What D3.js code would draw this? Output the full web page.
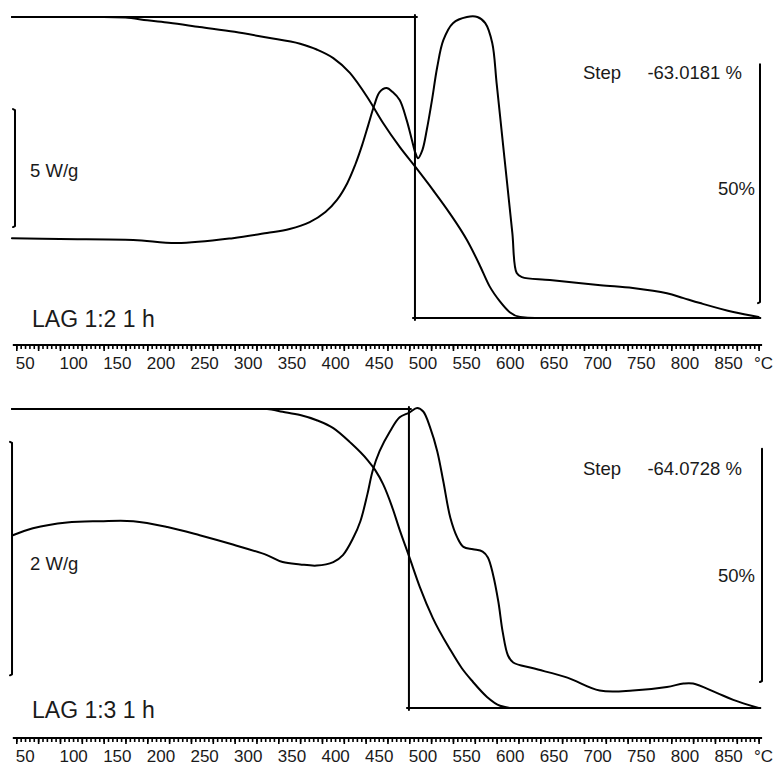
<!DOCTYPE html>
<html>
<head>
<meta charset="utf-8">
<script src="https://cdn.jsdelivr.net/npm/d3@7"></script>
<style>
  body { margin: 0; background: #fff; }
  svg { display: block; }
  text { font-family: "Liberation Sans", Arial, sans-serif; fill: #1a1a1a; }
</style>
</head>
<body>
<svg id="chart" width="779" height="769"></svg>
<script>
// ---- Temperature axis (°C) ----
const tickLabels = [50, 100, 150, 200, 250, 300, 350, 400, 450, 500, 550, 600, 650, 700, 750, 800, 850];

// ---- LAG 1:2, 1 h : TGA mass (%) ----
const tgaA_temp = [45, 100, 150, 175, 200, 225, 260, 300, 337, 375, 394, 413, 432, 452, 470, 489, 507, 527, 546, 566, 580, 592, 604, 615, 627, 644, 750, 902];
const tgaA_mass = [100, 100, 100, 99.9, 99.3, 98.8, 97.9, 96.9, 95.7, 94.4, 93.2, 91.4, 88.3, 83.2, 77.8, 72.8, 68.6, 63.8, 59.0, 53.3, 48.3, 43.6, 40.4, 38.2, 37.2, 36.98, 36.98, 36.98];

// ---- LAG 1:2, 1 h : DSC heat flow (W/g) ----
const dscA_temp = [45, 100, 184, 234, 298, 337, 363, 386, 404, 417, 429, 438, 446, 453, 460, 466, 474, 481, 489, 497, 503, 507, 510, 515, 520, 526, 532, 539, 550, 566, 578, 587, 595, 600, 606, 612, 618, 623, 629, 661, 719, 756, 795, 814, 833, 871, 900];
const dscA_flow = [0.08, 0.04, 0, -0.13, 0.08, 0.30, 0.47, 0.76, 1.19, 1.69, 2.41, 3.18, 4.02, 4.87, 5.72, 6.27, 6.44, 6.27, 5.93, 5.08, 4.24, 3.69, 3.47, 3.81, 4.66, 5.93, 7.33, 8.47, 9.19, 9.45, 9.45, 9.19, 8.35, 6.65, 4.53, 2.42, 0.30, -1.40, -1.57, -1.69, -1.91, -2.03, -2.25, -2.46, -2.67, -3.05, -3.26];

// ---- LAG 1:3, 1 h : TGA mass (%) ----
const tgaB_temp = [45, 150, 250, 337, 355, 375, 394, 413, 432, 452, 461, 470, 480, 489, 500, 512, 527, 547, 560, 573, 589, 604, 618, 650, 750, 902];
const tgaB_mass = [100, 100, 100, 100, 99.4, 98.7, 97.6, 95.9, 92.9, 89.1, 86.9, 83.9, 79.2, 74.1, 68.3, 61.9, 55.2, 48.4, 44.5, 41.5, 38.3, 36.4, 35.93, 35.93, 35.93, 35.93];

// ---- LAG 1:3, 1 h : DSC heat flow (W/g) ----
const dscB_temp = [46, 69, 108, 146, 184, 223, 260, 298, 337, 355, 375, 394, 413, 424, 436, 444, 452, 458, 466, 478, 489, 500, 509, 516, 524, 532, 539, 547, 555, 562, 573, 584, 590, 596, 602, 607, 613, 619, 642, 681, 718, 756, 795, 814, 825, 852, 871, 900];
const dscB_flow = [0.21, 0.27, 0.32, 0.33, 0.33, 0.28, 0.21, 0.13, 0.04, -0.02, -0.04, -0.05, -0.02, 0.04, 0.19, 0.33, 0.56, 0.76, 0.93, 1.10, 1.22, 1.26, 1.30, 1.27, 1.13, 0.93, 0.67, 0.36, 0.19, 0.11, 0.09, 0.07, 0.02, -0.13, -0.36, -0.62, -0.82, -0.88, -0.93, -1.01, -1.12, -1.12, -1.09, -1.06, -1.06, -1.14, -1.20, -1.27];

// ---- Step evaluation and annotations ----
const sampleNames = ["LAG 1:2 1 h", "LAG 1:3 1 h"];
const stepLoss = [-63.0181, -64.0728];      // %
const stepOnset = [506.5, 499.6];           // °C, vertical step line
const heatBar = [5, 2];                     // W/g scale bar length
const heatBarBase = [0.55, -0.99];          // W/g at lower end of scale bar
const massBar = [50, 50];                   // % scale bar length
const massBarBase = [40.1, 41.5];           // % at lower end of scale bar
const heatRange = [[-3.26, 9.45], [-1.27, 1.30]];

// ---- Layout ----
const svg = d3.select("#chart");
const x = d3.scaleLinear().domain([50, 900]).range([16.3, 758.6]);

const panels = [
  { top: 17, bottom: 318, heatTop: 17, heatBottom: 317, axisY: 345, stepY: 79, pctY: 195, heatLabelY: 177, nameY: 327,
    heatX: 48.5, massX: 901.6,
    tga: [tgaA_temp, tgaA_mass], dsc: [dscA_temp, dscA_flow] },
  { top: 409, bottom: 708, heatTop: 408, heatBottom: 708, axisY: 738, stepY: 475, pctY: 582, heatLabelY: 570, nameY: 718,
    heatX: 45.1, massX: 903.9,
    tga: [tgaB_temp, tgaB_mass], dsc: [dscB_temp, dscB_flow] }
];

const fmtStep = v => v.toFixed(4);

panels.forEach((p, i) => {
  const g = svg.append("g");
  const yMass = d3.scaleLinear().domain([100 + stepLoss[i], 100]).range([p.bottom, p.top]);
  const yHeat = d3.scaleLinear().domain(heatRange[i]).range([p.heatBottom, p.heatTop]);

  const line = (ys, curve) => d3.line().x(d => x(d[0])).y(d => ys(d[1])).curve(curve);
  const stroke = (sel, w) => sel.attr("fill", "none").attr("stroke", "#000").attr("stroke-width", w)
                                .attr("stroke-linejoin", "round").attr("stroke-linecap", "round");

  // Step evaluation lines: initial mass, onset, final mass
  const x0 = x(45), xOn = x(stepOnset[i]), xEnd = x(901.5);
  const yStart = yMass(100), yFinal = yMass(100 + stepLoss[i]);
  stroke(g.append("path"), 2).attr("d",
    `M${x0},${yStart}H${xOn + 2}` +
    `M${xOn},${yStart - 2}V${yFinal + 2}` +
    `M${xOn - 2},${yFinal}H${xEnd}`);

  // Curves: TGA mass loss (monotone) and DSC heat flow
  const tgaPts = p.tga[0].map((t, k) => [t, p.tga[1][k]]);
  const dscPts = p.dsc[0].map((t, k) => [t, p.dsc[1][k]]);
  stroke(g.append("path").datum(tgaPts), 2).attr("d", line(yMass, d3.curveMonotoneX));
  stroke(g.append("path").datum(dscPts), 2).attr("d", line(yHeat, d3.curveCatmullRom.alpha(0.5)));

  // Heat-flow scale bar (left)
  const hx = x(p.heatX), hy1 = yHeat(heatBarBase[i]), hy2 = yHeat(heatBarBase[i] + heatBar[i]);
  stroke(g.append("path"), 2).attr("d",
    `M${hx - 2},${hy2}L${hx},${hy2 + 1}V${hy1 - 1}L${hx - 2},${hy1}`);
  g.append("text").attr("x", 30).attr("y", p.heatLabelY).attr("font-size", 18.5)
    .text(`${heatBar[i]} W/g`);

  // Mass scale bar (right)
  const mx = x(p.massX), my1 = yMass(massBarBase[i]), my2 = yMass(massBarBase[i] + massBar[i]);
  stroke(g.append("path"), 2).attr("d", `M${mx},${my2}V${my1 - 1}L${mx - 2},${my1}`);
  g.append("text").attr("x", 755).attr("y", p.pctY).attr("font-size", 18.5)
    .attr("text-anchor", "end").text(`${massBar[i]}%`);

  // Step annotation
  g.append("text").attr("x", 583).attr("y", p.stepY).attr("font-size", 18.5).text("Step");
  g.append("text").attr("x", 742).attr("y", p.stepY).attr("font-size", 18.5)
    .attr("text-anchor", "end").text(`${fmtStep(stepLoss[i])} %`);

  // Sample name
  g.append("text").attr("x", 32).attr("y", p.nameY).attr("font-size", 23).text(sampleNames[i]);

  // Temperature axis
  const ax = svg.append("g").attr("transform", `translate(0,${p.axisY})`);
  const minor = d3.axisBottom(x).tickValues(d3.range(50, 901, 5)).tickSize(4).tickFormat("");
  const major = d3.axisBottom(x).tickValues(d3.range(50, 901, 25)).tickSize(6)
    .tickFormat(d => tickLabels.includes(d) ? d : "");
  ax.append("g").call(minor).call(s => s.select(".domain").remove());
  const mj = ax.append("g").call(major).call(s => s.select(".domain").remove());
  ax.selectAll(".tick line").attr("stroke", "#000").attr("stroke-width", 1.6);
  mj.selectAll(".tick text")
    .attr("text-anchor", "start").attr("x", -1).attr("y", 12).attr("dy", "0.71em")
    .attr("font-size", 17).attr("font-family", "Liberation Sans, Arial, sans-serif").attr("fill", "#1a1a1a");
  ax.append("line").attr("x1", x(46)).attr("x2", x(904)).attr("y1", 0).attr("y2", 0)
    .attr("stroke", "#000").attr("stroke-width", 2.2);
  ax.append("text").attr("x", 773).attr("y", 12).attr("dy", "0.71em").attr("font-size", 17)
    .attr("text-anchor", "end").text("°C");
});
</script>
</body>
</html>
